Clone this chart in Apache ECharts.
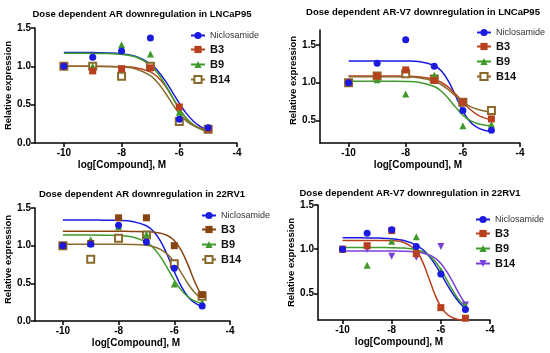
<!DOCTYPE html>
<html><head><meta charset="utf-8">
<script src="https://cdn.jsdelivr.net/npm/echarts@6/dist/echarts.min.js"></script>
<style>html,body{margin:0;padding:0;background:#fff}#c{width:550px;height:353px}</style>
</head><body><div id="c"></div>
<script>
// ---- data ----
const pointX = [-10, -9, -8, -7, -6, -5];
const curveX = [-10, -9.5, -9, -8.5, -8, -7.5, -7, -6.75, -6.5, -6.25, -6, -5.75, -5.5, -5.25, -5];
const xTicks = [-10, -8, -6, -4];

const titles = [
  'Dose dependent AR downregulation in LNCaP95',
  'Dose dependent AR-V7 downregulation in LNCaP95',
  'Dose dependent AR downregulation in 22RV1',
  'Dose dependent AR-V7 downregulation in 22RV1'
];
const yTicks1 = [0, 0.5, 1.0, 1.5];
const yTicks2 = [0.5, 1.0, 1.5];
const yTicks3 = [0, 0.5, 1.0, 1.5];
const yTicks4 = [0.5, 1.0, 1.5];

// panel 1 points
const p1Nic = [1.0, 1.12, 1.20, 1.37, 0.31, 0.20];
const p1B3  = [1.0, 0.94, 0.97, 0.98, 0.47, 0.18];
const p1B9  = [1.0, 1.0, 1.28, 1.16, 0.40, 0.18];
const p1B14 = [1.0, 1.0, 0.87, 1.0, 0.28, 0.18];
// panel 1 curves
const c1Nic = [1.18, 1.18, 1.18, 1.175, 1.163, 1.129, 1.033, 0.942, 0.82, 0.671, 0.519, 0.383, 0.28, 0.209, 0.164];
const c1B3  = [1.0, 1.0, 1.0, 0.999, 0.996, 0.983, 0.928, 0.861, 0.751, 0.602, 0.445, 0.317, 0.234, 0.187, 0.163];
const c1B9  = [1.17, 1.17, 1.169, 1.166, 1.156, 1.121, 1.016, 0.913, 0.771, 0.606, 0.447, 0.321, 0.233, 0.179, 0.148];
const c1B14 = [1.0, 1.0, 0.999, 0.998, 0.991, 0.966, 0.879, 0.788, 0.662, 0.517, 0.384, 0.286, 0.224, 0.189, 0.17];

// panel 2 points
const p2Nic = [1.0, 1.26, 1.57, 1.22, 0.63, 0.37];
const p2B3  = [1.0, 1.09, 1.17, 1.03, 0.74, 0.52];
const p2B9  = [1.0, 1.04, 0.85, 1.10, 0.43, 0.45];
const p2B14 = [1.0, 1.09, 1.12, 1.05, 0.74, 0.63];
// panel 2 curves
const c2Nic = [1.29, 1.29, 1.29, 1.29, 1.288, 1.279, 1.229, 1.155, 1.018, 0.823, 0.625, 0.483, 0.406, 0.368, 0.352];
const c2B3  = [1.09, 1.09, 1.09, 1.089, 1.087, 1.077, 1.043, 1.003, 0.938, 0.847, 0.743, 0.648, 0.578, 0.533, 0.508];
const c2B9  = [1.02, 1.02, 1.02, 1.019, 1.017, 1.004, 0.95, 0.887, 0.789, 0.673, 0.57, 0.499, 0.459, 0.439, 0.429];
const c2B14 = [1.08, 1.08, 1.08, 1.079, 1.076, 1.063, 1.019, 0.973, 0.905, 0.824, 0.746, 0.686, 0.647, 0.625, 0.613];

// panel 3 points
const p3Nic = [1.0, 1.02, 1.27, 1.05, 0.70, 0.20];
const p3B3  = [1.0, 1.03, 1.37, 1.37, 1.00, 0.35];
const p3B9  = [1.0, 1.08, 1.25, 1.15, 0.49, 0.25];
const p3B14 = [1.0, 0.82, 1.10, 1.14, 0.76, 0.33];
// panel 3 curves
const c3Nic = [1.34, 1.34, 1.34, 1.339, 1.336, 1.322, 1.265, 1.191, 1.064, 0.876, 0.656, 0.459, 0.319, 0.237, 0.193];
const c3B3  = [1.19, 1.19, 1.19, 1.19, 1.19, 1.189, 1.186, 1.18, 1.166, 1.135, 1.068, 0.939, 0.738, 0.507, 0.319];
const c3B9  = [1.14, 1.14, 1.14, 1.139, 1.134, 1.115, 1.047, 0.971, 0.854, 0.702, 0.543, 0.41, 0.319, 0.264, 0.233];
const c3B14 = [1.02, 1.02, 1.02, 1.02, 1.019, 1.016, 1.004, 0.986, 0.951, 0.887, 0.783, 0.64, 0.491, 0.369, 0.29];

// panel 4 points
const p4Nic = [1.0, 1.18, 1.22, 1.03, 0.72, 0.32];
const p4B3  = [1.0, 1.04, 1.21, 0.95, 0.34, 0.22];
const p4B9  = [1.0, 0.82, 1.09, 1.14, 0.76, 0.36];
const p4B14 = [1.0, 1.0, 0.92, 0.91, 1.03, 0.37];
// panel 4 curves
const c4Nic = [1.13, 1.129, 1.128, 1.126, 1.119, 1.099, 1.047, 0.998, 0.928, 0.835, 0.723, 0.603, 0.491, 0.398, 0.329];
const c4B3  = [1.10, 1.10, 1.10, 1.099, 1.096, 1.076, 0.982, 0.862, 0.684, 0.494, 0.349, 0.265, 0.223, 0.204, 0.196];
const c4B9  = [1.02, 1.02, 1.02, 1.019, 1.018, 1.013, 0.995, 0.972, 0.933, 0.868, 0.772, 0.65, 0.526, 0.422, 0.35];
const c4B14 = [0.98, 0.98, 0.98, 0.98, 0.979, 0.977, 0.969, 0.958, 0.939, 0.902, 0.84, 0.745, 0.622, 0.492, 0.381];

// ---- styling ----
const FONT = 'Liberation Sans, Arial, sans-serif';
const BLUE = '#1a1ae0', RED = '#b8401e', BROWN3 = '#87440f', GREEN = '#3e9a2a', OLIVE = '#8a6a2c', PURPLE = '#7a40d8';

const panels = [
  { title: titles[0], tx: 137, ty: 4, grid: {left: 35, top: 28, width: 202, height: 115}, ymin: 0, ymax: 1.5, yt: yTicks1,
    xpad: [0, 28, 0, 0], ypad: [0, 0, 0, 0], ygap: 21, leg: {left: 190, top: 31},
    series: [
      {name: 'Niclosamide', pts: p1Nic, cur: c1Nic, color: BLUE, sym: 'circle'},
      {name: 'B3', pts: p1B3, cur: c1B3, color: RED, sym: 'rect'},
      {name: 'B9', pts: p1B9, cur: c1B9, color: GREEN, sym: 'triangle'},
      {name: 'B14', pts: p1B14, cur: c1B14, color: OLIVE, sym: 'emptyRect'}]},
  { title: titles[1], tx: 418, ty: 2, grid: {left: 320, top: 30, width: 200, height: 113}, ymin: 0.2, ymax: 1.7, yt: yTicks2,
    xpad: [0, 4, 0, 0], ypad: [0, 0, 0, 12], ygap: 20, leg: {left: 476, top: 28},
    series: [
      {name: 'Niclosamide', pts: p2Nic, cur: c2Nic, color: BLUE, sym: 'circle'},
      {name: 'B3', pts: p2B3, cur: c2B3, color: RED, sym: 'rect'},
      {name: 'B9', pts: p2B9, cur: c2B9, color: GREEN, sym: 'triangle'},
      {name: 'B14', pts: p2B14, cur: c2B14, color: OLIVE, sym: 'emptyRect'}]},
  { title: titles[2], tx: 137, ty: 184, grid: {left: 35, top: 208, width: 195, height: 113}, ymin: 0, ymax: 1.5, yt: yTicks3,
    xpad: [0, 0, 0, 7], ypad: [0, 0, 0, 10], ygap: 21, leg: {left: 201, top: 211},
    series: [
      {name: 'Niclosamide', pts: p3Nic, cur: c3Nic, color: BLUE, sym: 'circle'},
      {name: 'B3', pts: p3B3, cur: c3B3, color: BROWN3, sym: 'rect'},
      {name: 'B9', pts: p3B9, cur: c3B9, color: GREEN, sym: 'triangle'},
      {name: 'B14', pts: p3B14, cur: c3B14, color: OLIVE, sym: 'emptyRect'}]},
  { title: titles[3], tx: 405, ty: 183, grid: {left: 318, top: 205, width: 172, height: 115}, ymin: 0.2, ymax: 1.5, yt: yTicks4,
    xpad: [0, 10, 0, 0], ypad: [0, 0, 0, 0], ygap: 19, leg: {left: 475, top: 215},
    series: [
      {name: 'Niclosamide', pts: p4Nic, cur: c4Nic, color: BLUE, sym: 'circle'},
      {name: 'B3', pts: p4B3, cur: c4B3, color: RED, sym: 'rect'},
      {name: 'B9', pts: p4B9, cur: c4B9, color: GREEN, sym: 'triangle'},
      {name: 'B14', pts: p4B14, cur: c4B14, color: PURPLE, sym: 'triangle', rot: 180}]}
];

const option = {
  animation: false, backgroundColor: '#fff',
  title: [], grid: [], xAxis: [], yAxis: [], legend: [], series: []
};

const axisLineStyle = {lineStyle: {color: '#000', width: 1.5}};
panels.forEach((p, i) => {
  option.title.push({text: p.title, left: p.tx, top: p.ty, textAlign: 'center',
    textStyle: {fontFamily: FONT, fontSize: 9.5, fontWeight: 'bold', color: '#000'}});
  option.grid.push(p.grid);
  option.xAxis.push({type: 'value', gridIndex: i, min: -11, max: -4,
    name: 'log[Compound], M', nameLocation: 'middle', nameGap: 17,
    nameTextStyle: {fontFamily: FONT, fontSize: 10, fontWeight: 'bold', color: '#000', padding: p.xpad},
    axisLine: axisLineStyle, splitLine: {show: false},
    axisTick: {customValues: xTicks, length: 4, lineStyle: {color: '#000', width: 1.5}},
    axisLabel: {customValues: xTicks, margin: 5, fontFamily: FONT, fontSize: 10, fontWeight: 'bold', color: '#000'}});
  option.yAxis.push({type: 'value', gridIndex: i, min: p.ymin, max: p.ymax,
    name: 'Relative expression', nameLocation: 'middle', nameGap: p.ygap, nameRotate: 90,
    nameTextStyle: {fontFamily: FONT, fontSize: 9.5, fontWeight: 'bold', color: '#000', padding: p.ypad},
    axisLine: {show: true, onZero: false, lineStyle: {color: '#000', width: 1.5}}, splitLine: {show: false},
    axisTick: {customValues: p.yt, length: 4, lineStyle: {color: '#000', width: 1.5}},
    axisLabel: {customValues: p.yt, margin: 4, fontFamily: FONT, fontSize: 10, fontWeight: 'bold', color: '#000',
      formatter: v => v.toFixed(1)}});
  const legData = [];
  p.series.forEach(s => {
    const id = 'P' + i + '|' + s.name;
    const isN = s.name === 'Niclosamide';
    legData.push({name: id, textStyle: {fontWeight: isN ? 'normal' : 'bold',
      fontSize: isN ? 9 : 11, color: isN ? '#333' : '#111'}});
    option.series.push({type: 'line', name: id, xAxisIndex: i, yAxisIndex: i,
      data: curveX.map((x, k) => [x, s.cur[k]]), smooth: 0.4, symbol: s.sym, symbolRotate: s.rot || 0,
      symbolSize: 7, showSymbol: false, color: s.color,
      lineStyle: {color: s.color, width: 1.5}, itemStyle: {color: s.color, borderWidth: 1.3}, z: 2});
  });
  p.series.slice().reverse().forEach(s => {
    option.series.push({type: 'scatter', name: 'pts' + i + s.name, xAxisIndex: i, yAxisIndex: i,
      data: pointX.map((x, k) => [x, s.pts[k]]), symbol: s.sym, symbolRotate: s.rot || 0, symbolSize: 7,
      itemStyle: {color: s.color, borderColor: s.color, borderWidth: s.sym === 'emptyRect' ? 1.3 : 0, opacity: 1}, z: 3});
  });
  option.legend.push({orient: 'vertical', left: p.leg.left, top: p.leg.top, data: legData,
    itemWidth: 14, itemHeight: 9, itemGap: 4, padding: 0,
    formatter: n => n.split('|')[1],
    textStyle: {fontFamily: FONT, fontSize: 11, color: '#222'}});
});

const chart = echarts.init(document.getElementById('c'), null, {renderer: 'canvas'});
chart.setOption(option);
</script></body></html>
